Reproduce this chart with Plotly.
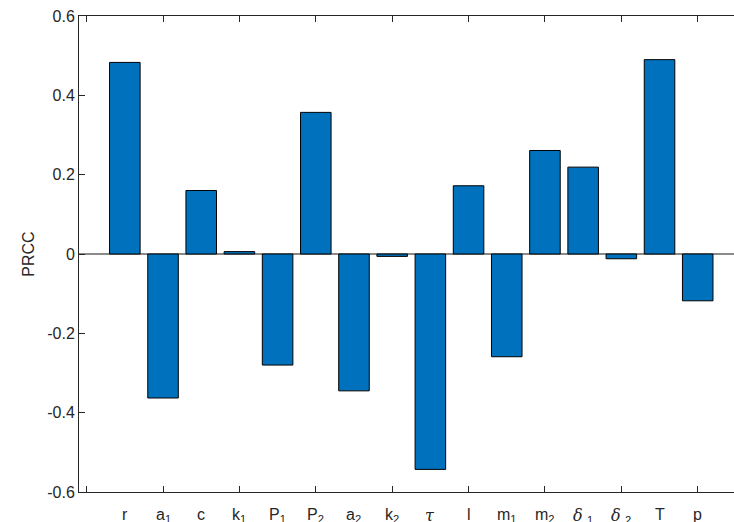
import plotly.graph_objects as go

params = ["r", "a<sub>1</sub>", "c", "k<sub>1</sub>", "P<sub>1</sub>", "P<sub>2</sub>",
          "a<sub>2</sub>", "k<sub>2</sub>", "<span style=\"font-family:'DejaVu Serif'\"><i>τ</i></span>",
          "l", "m<sub>1</sub>", "m<sub>2</sub>",
          "<span style=\"font-family:'DejaVu Serif'\"><i>δ</i></span> <sub>1</sub>",
          "<span style=\"font-family:'DejaVu Serif'\"><i>δ</i></span> <sub>2</sub>",
          "T", "p"]
positions = list(range(1, 17))
prcc = [0.483, -0.363, 0.160, 0.006, -0.280, 0.357, -0.345, -0.006,
        -0.543, 0.172, -0.259, 0.261, 0.219, -0.012, 0.490, -0.118]
yticks = [-0.6, -0.4, -0.2, 0, 0.2, 0.4, 0.6]
ytick_text = ["-0.6", "-0.4", "-0.2", "0", "0.2", "0.4", "0.6"]
xticks = [0, 2, 4, 6, 8, 10, 12, 14, 16]

axis_color = "#262626"
font_family = "Liberation Sans, Arial, sans-serif"

fig = go.Figure()
fig.add_trace(go.Bar(
    x=positions, y=prcc, width=0.8,
    marker=dict(color="#0072BD", line=dict(color="#000000", width=1)),
    showlegend=False,
))

for xv, lab in zip(positions, params):
    fig.add_annotation(x=xv, xref="x", y=-0.026, yref="paper", yanchor="top",
                       text=lab, showarrow=False,
                       font=dict(family=font_family, size=16, color=axis_color))

fig.update_layout(
    width=734, height=522,
    margin=dict(l=79, r=0, t=16, b=30),
    paper_bgcolor="white", plot_bgcolor="white",
    font=dict(family=font_family, size=16, color=axis_color),
    xaxis=dict(range=[-0.2, 16.95], tickvals=xticks, ticktext=[""] * len(xticks),
               ticks="inside", ticklen=6, tickcolor=axis_color, tickwidth=1,
               showline=True, linecolor=axis_color, linewidth=1, mirror="ticks",
               showgrid=False, zeroline=False, automargin=False),
    yaxis=dict(range=[-0.6, 0.6], tickvals=yticks, ticktext=ytick_text,
               ticks="inside", ticklen=6, tickcolor=axis_color, tickwidth=1,
               showline=True, linecolor=axis_color, linewidth=1, mirror=False,
               showgrid=False, zeroline=True, zerolinecolor="#8a8a8a", zerolinewidth=1.5,
               title=dict(text="PRCC", standoff=8, font=dict(size=16)),
               tickfont=dict(size=16), automargin=False),
    bargap=0.2,
)

fig.write_html("out.html", config={"displayModeBar": False},
               post_script="document.body.style.margin='0px';document.body.style.overflow='hidden';")
